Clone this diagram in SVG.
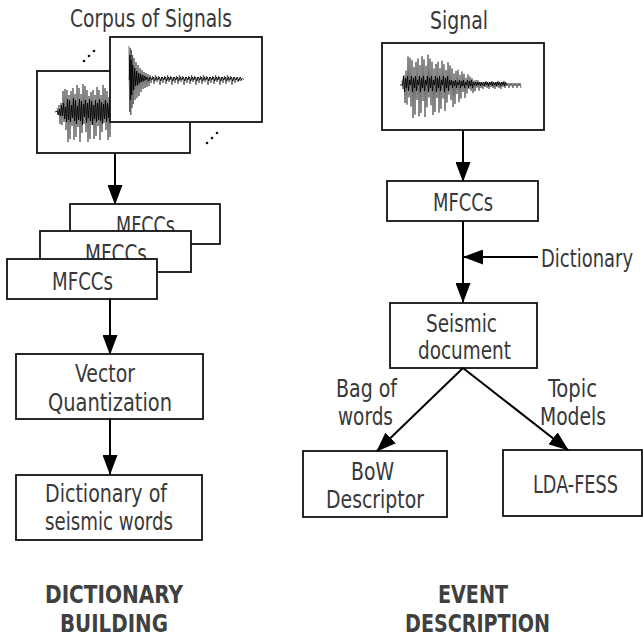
<svg xmlns="http://www.w3.org/2000/svg" width="643" height="637" viewBox="0 0 643 637">
  <style>
    .box { fill: #fff; stroke: #111; stroke-width: 1.8; }
    .lbl { font-family: "Liberation Sans Narrow", "DejaVu Sans Condensed", "Liberation Sans", sans-serif; font-size: 25px; fill: #383838; text-anchor: middle; }
    .ttl { font-family: "Liberation Sans Narrow", "DejaVu Sans Condensed", "Liberation Sans", sans-serif; font-size: 25px; font-weight: bold; fill: #404040; text-anchor: middle; }
    .edge { fill: none; stroke: #000; stroke-width: 2; marker-end: url(#head); }
    .waveA { fill: none; stroke: #4a4a4a; stroke-width: 0.8; stroke-linejoin: miter; }
    .waveB { fill: none; stroke: #000; stroke-width: 0.9; }
    .dot { fill: #111; }
  </style>
  <defs>
    <marker id="head" markerUnits="userSpaceOnUse" markerWidth="20" markerHeight="15" refX="19" refY="7.5" orient="auto">
      <path d="M0,0 L20,7.5 L0,15 Z" fill="#000"/>
    </marker>
  </defs>

  <!-- Dictionary building column -->
  <g id="corpus">
    <text class="lbl" x="151" y="27" textLength="162" lengthAdjust="spacingAndGlyphs">Corpus of Signals</text>
    <circle class="dot" cx="84" cy="61" r="1.3"/><circle class="dot" cx="89" cy="56" r="1.3"/><circle class="dot" cx="94" cy="51" r="1.3"/>
    <circle class="dot" cx="207" cy="143" r="1.3"/><circle class="dot" cx="212" cy="138" r="1.3"/><circle class="dot" cx="217" cy="133" r="1.3"/>
    <rect class="box" x="37" y="71" width="153" height="82"/>
    <polyline class="waveA" points="57,108 58,115 59,105 60,124 61,103 62,125 63,91 64,122 65,89 66,130 67,90 68,142 69,95 70,139 71,91 72,126 73,88 74,140 75,94 76,137 77,85 78,127 79,88 80,142 81,94 82,133 83,84 84,124 85,86 86,132 87,90 88,142 89,96 90,139 91,92 92,125 93,90 94,139 95,95 96,136 97,87 98,126 99,90 100,140 101,95 102,132 103,85 104,123 105,88 106,130 107,91 108,140 109,97 110,137 111,90"/>
    <polyline class="waveB" points="55,112 57.5,111 58.5,115 59.5,109 60.5,116 61.5,105 62.5,116 63.5,103 64.5,119 65.5,107 66.5,122 67.5,99 68.5,120 69.5,100 70.5,122 71.5,105 72.5,118 73.5,98 74.5,121 75.5,100 76.5,124 77.5,106 78.5,120 79.5,99 80.5,121 81.5,101 82.5,125 83.5,104 84.5,117 85.5,100 86.5,123 87.5,103 88.5,118 89.5,99 90.5,121 91.5,101 92.5,125 93.5,105 94.5,119 95.5,100 96.5,122 97.5,103 98.5,120 99.5,99 100.5,121 101.5,102 102.5,124 103.5,104 104.5,119 105.5,100 106.5,122 107.5,103 108.5,118 109.5,100 110.5,121"/>
    <rect class="box" x="110" y="37" width="152" height="85"/>
    <path class="waveA" d="M129 46 L129.6 112 L130.2 48 L130.8 115 L131.4 50 L132 108 L132.6 55 L133.2 104 L134 58 L135 100 L136 62 L137 98 L138 65 L139 96 L140 68 L141 92 L142 70 L143 89 L144 72 L145 88 L146 73 L147 87 L148 74 L149 86 L150 75 L151 83
      l1.5,-7 1.5,8 1.5,-9 1.5,7 1.5,-6 1.5,9 1.5,-8 1.5,6
      1.5,-7 1.5,8 1.5,-9 1.5,7 1.5,-6 1.5,9 1.5,-8 1.5,6
      1.5,-7 1.5,8 1.5,-9 1.5,7 1.5,-6 1.5,9 1.5,-8 1.5,6
      1.5,-7 1.5,8 1.5,-9 1.5,7 1.5,-6 1.5,9 1.5,-8 1.5,6
      1.5,-7 1.5,8 1.5,-9 1.5,7 1.5,-6 1.5,9 1.5,-8 1.5,6
      1.5,-7 1.5,8 1.5,-9 1.5,7 1.5,-6 1.5,9 1.5,-8 1.5,6
      1.5,-7 1.5,8 1.5,-9 1.5,7 1.5,-6 1.5,9 1.5,-8 1.5,6
      1.5,-5 1.5,4 1.5,-4 1.5,3 1.5,-3 1.5,2"/>
    <path class="waveB" d="M129.3 80 l0.6,-25 0.6,45 0.6,-40 0.6,35 1,-30 1,25 1,-22 1,18 1,-15 1,14 1,-12 1,10 1,-9 1,8 1,-7 1,6 1,-5 1,4
      1.5,-3 1.5,4 1.5,-4 1.5,3 1.5,-3 1.5,4 1.5,-4 1.5,3 1.5,-3 1.5,4 1.5,-4 1.5,3 1.5,-3 1.5,4 1.5,-4 1.5,3
      1.5,-3 1.5,4 1.5,-4 1.5,3 1.5,-3 1.5,4 1.5,-4 1.5,3 1.5,-3 1.5,4 1.5,-4 1.5,3 1.5,-3 1.5,4 1.5,-4 1.5,3
      1.5,-3 1.5,4 1.5,-4 1.5,3 1.5,-3 1.5,4 1.5,-4 1.5,3 1.5,-3 1.5,4 1.5,-4 1.5,3 1.5,-3 1.5,4 1.5,-4 1.5,3
      1.5,-3 1.5,4 1.5,-4 1.5,3 1.5,-3 1.5,4 1.5,-4 1.5,3 1.5,-3 1.5,4 1.5,-4 1.5,3 1.5,-3 1.5,4 1.5,-4 1.5,3"/>
  </g>

  <g id="mfccs-stack">
    <rect class="box" x="70" y="204" width="150" height="40"/>
    <text class="lbl" x="145.5" y="234" textLength="59" lengthAdjust="spacingAndGlyphs">MFCCs</text>
    <rect class="box" x="40" y="231" width="151" height="41"/>
    <text class="lbl" x="116" y="262" textLength="62" lengthAdjust="spacingAndGlyphs">MFCCs</text>
    <rect class="box" x="7" y="259" width="150" height="40"/>
    <text class="lbl" x="82.5" y="290" textLength="61" lengthAdjust="spacingAndGlyphs">MFCCs</text>
  </g>

  <g id="vector-quantization">
    <rect class="box" x="16" y="354" width="187" height="65"/>
    <text class="lbl" x="105" y="382" textLength="60" lengthAdjust="spacingAndGlyphs">Vector</text>
    <text class="lbl" x="110" y="411" textLength="124" lengthAdjust="spacingAndGlyphs">Quantization</text>
  </g>

  <g id="seismic-dictionary">
    <rect class="box" x="16" y="475" width="186" height="65"/>
    <text class="lbl" x="106" y="502" textLength="122" lengthAdjust="spacingAndGlyphs">Dictionary of</text>
    <text class="lbl" x="109" y="530" textLength="128" lengthAdjust="spacingAndGlyphs">seismic words</text>
  </g>

  <!-- Event description column -->
  <g id="signal">
    <text class="lbl" x="459" y="29" textLength="58" lengthAdjust="spacingAndGlyphs">Signal</text>
    <rect class="box" x="382" y="43" width="162" height="87"/>
    <path class="waveA" d="M402 80.5 L403 89 L404 75.4 L405 103 L406 70.6 L407 104.6 L408 56.5 L409 97.4 L410 57.8 L411 106.5 L412 60.3 L413 118 L414 66.9 L415 114.7 L416 61.9 L417 99.9 L418 58.6 L419 116.4 L420 65.2 L421 113 L422 56.2 L423 101 L424 59.4 L425 117 L426 65.8 L427 107.4 L428 54.6 L429 97.4 L430 58.6 L431 105.2 L432 61.8 L433 115 L434 68.5 L435 112 L436 64 L437 98 L438 61.8 L439 112.6 L440 68.2 L441 108.8 L442 60.7 L443 98.5 L444 64.2 L445 111 L446 70 L447 102.5 L448 62.2 L449 94.6 L450 65.5 L451 100 L452 68.5 L453 107 L454 73.5 L455 103.9 L456 71 L457 94 L458 69.8 L459 102.1 L460 74.8 L461 98.6 L462 71.5 L463 92 L464 73.8 L465 98 L466 77.8 L467 93.4 L468 74.5 L469 89 L470 76.5 L471 90.9 L472 78.3 L473 93 L474 80.6 L475 91.3 L476 80.1 L477 87.7 L478 80.2 L479 90.7 L480 82 L481 88
      l1,-5 1,6 1,-7 1,5 1,-6 1,7 1,-5 1,6 1,-7 1,5 1,-6 1,7 1,-5 1,6 1,-7 1,5 1,-6 1,7 1,-5 1,6 1,-7 1,5 1,-6 1,7
      1,-5 1,3 1,-3 1,5 1,-5 1,3 1,-3 1,5 1,-5 1,3 1,-3 1,5 1,-5 1,3 1,-3 1,5"/>
    <path class="waveB" d="M400 85 L402.5 85 l1,-9 1,16 1,-14 1,10 1,-12 1,15 1,-11 1,5 1,-9 1,16 1,-14 1,10 1,-12 1,15 1,-11 1,5
      1,-9 1,16 1,-14 1,10 1,-12 1,15 1,-11 1,5 1,-9 1,16 1,-14 1,10 1,-12 1,15 1,-11 1,5
      1,-9 1,16 1,-14 1,10 1,-12 1,15 1,-11 1,5 1,-9 1,16 1,-14 1,10 1,-12 1,15 1,-11 1,5
      1,-5 1,8 1,-7 1,5 1,-6 1,8 1,-6 1,3 1,-5 1,8 1,-7 1,5 1,-6 1,8 1,-6 1,3 1,-5 1,8 1,-7 1,5 1,-6 1,8 1,-6 1,3
      1,-3 1,4 1,-4 1,3 1,-3 1,4 1,-4 1,3 1,-3 1,4 1,-4 1,3 1,-3 1,4 1,-4 1,3 1,-3 1,4 1,-4 1,3 1,-3 1,4 1,-4 1,3 1,-3 1,4 1,-4 1,3 1,-3 1,4 1,-4 1,3"/>
  </g>

  <g id="mfccs">
    <rect class="box" x="387" y="181" width="151" height="40"/>
    <text class="lbl" x="463" y="211" textLength="60" lengthAdjust="spacingAndGlyphs">MFCCs</text>
  </g>

  <g id="dictionary-input">
    <text class="lbl" x="587" y="267" font-size="23" textLength="92" lengthAdjust="spacingAndGlyphs">Dictionary</text>
  </g>

  <g id="seismic-document">
    <rect class="box" x="390" y="303" width="147" height="65"/>
    <text class="lbl" x="461.5" y="332" textLength="71" lengthAdjust="spacingAndGlyphs">Seismic</text>
    <text class="lbl" x="464.5" y="359" textLength="93" lengthAdjust="spacingAndGlyphs">document</text>
  </g>

  <g id="bow-descriptor">
    <rect class="box" x="303" y="451" width="144" height="66"/>
    <text class="lbl" x="372.5" y="480" textLength="43" lengthAdjust="spacingAndGlyphs">BoW</text>
    <text class="lbl" x="375" y="508" textLength="98" lengthAdjust="spacingAndGlyphs">Descriptor</text>
  </g>

  <g id="lda-fess">
    <rect class="box" x="503" y="450" width="139" height="66"/>
    <text class="lbl" x="575.5" y="493" textLength="85" lengthAdjust="spacingAndGlyphs">LDA-FESS</text>
  </g>

  <!-- Connectors -->
  <g id="connectors">
    <line class="edge" x1="115" y1="153" x2="115" y2="204"/>
    <line class="edge" x1="110" y1="299" x2="110" y2="354"/>
    <line class="edge" x1="110" y1="419" x2="110" y2="474"/>
    <line class="edge" x1="463" y1="130" x2="463" y2="181"/>
    <line class="edge" x1="463" y1="221" x2="463" y2="302"/>
    <line class="edge" x1="538" y1="257" x2="464" y2="257"/>
    <line class="edge" x1="463" y1="368" x2="377" y2="451"/>
    <line class="edge" x1="463" y1="368" x2="568" y2="450"/>
    <text class="lbl" x="366.5" y="397" textLength="61" lengthAdjust="spacingAndGlyphs">Bag of</text>
    <text class="lbl" x="365.5" y="425" textLength="55" lengthAdjust="spacingAndGlyphs">words</text>
    <text class="lbl" x="572.5" y="397" textLength="49" lengthAdjust="spacingAndGlyphs">Topic</text>
    <text class="lbl" x="573" y="425" textLength="66" lengthAdjust="spacingAndGlyphs">Models</text>
  </g>

  <!-- Column titles -->
  <g id="titles">
    <text class="ttl" x="114" y="603" textLength="138" lengthAdjust="spacingAndGlyphs">DICTIONARY</text>
    <text class="ttl" x="114" y="632" textLength="108" lengthAdjust="spacingAndGlyphs">BUILDING</text>
    <text class="ttl" x="473" y="603" textLength="70" lengthAdjust="spacingAndGlyphs">EVENT</text>
    <text class="ttl" x="477.5" y="632" textLength="145" lengthAdjust="spacingAndGlyphs">DESCRIPTION</text>
  </g>
</svg>
